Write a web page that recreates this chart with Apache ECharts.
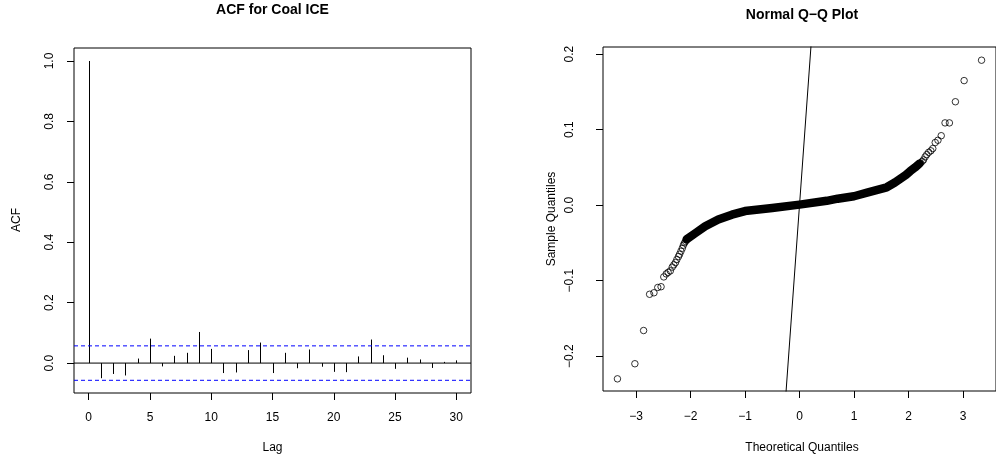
<!DOCTYPE html>
<html><head><meta charset="utf-8">
<script src="https://cdn.jsdelivr.net/npm/echarts@6/dist/echarts.min.js"></script>
<style>html,body{margin:0;padding:0;background:#fff}#c{width:996px;height:465px}</style>
</head><body><div id="c"></div>
<script>
// ---- ACF panel data ----
const acfLags = [0,1,2,3,4,5,6,7,8,9,10,11,12,13,14,15,16,17,18,19,20,21,22,23,24,25,26,27,28,29,30];
const acfValues = [1.0,-0.050,-0.036,-0.041,0.015,0.081,-0.011,0.024,0.034,0.103,0.047,-0.033,-0.031,0.043,0.068,-0.033,0.034,-0.017,0.045,-0.012,-0.029,-0.030,0.022,0.078,0.026,-0.019,0.018,0.012,-0.016,0.004,0.009];
const acfConfLimit = 0.057;
const acfXTicks = [0,5,10,15,20,25,30];
const acfYTicks = [0,0.2,0.4,0.6,0.8,1.0];

// ---- Q-Q panel data ----
// individually visible points in the tails (theoretical, sample)
const qqTailTheo = [-3.34,-3.02,-2.86,-2.75,-2.67,-2.60,-2.54,-2.49,-2.445,-2.41,-2.37,-2.335,-2.305,-2.275,-2.25,-2.22,-2.20,-2.175,-2.15,-2.13,-2.11,-2.09,-2.07,-2.05,
  2.15,2.175,2.20,2.22,2.25,2.275,2.305,2.335,2.37,2.41,2.445,2.49,2.54,2.60,2.67,2.75,2.86,3.02,3.34];
const qqTailSample = [-0.230,-0.210,-0.166,-0.118,-0.116,-0.109,-0.108,-0.095,-0.091,-0.089,-0.087,-0.082,-0.079,-0.076,-0.072,-0.068,-0.065,-0.061,-0.057,-0.053,-0.050,-0.048,-0.046,-0.044,
  0.052,0.053,0.055,0.056,0.058,0.060,0.064,0.067,0.070,0.072,0.075,0.083,0.086,0.092,0.109,0.109,0.137,0.165,0.192];
// dense central band (overlapping points) read along its centre
const qqBandTheo = [-2.07,-1.91,-1.73,-1.49,-1.24,-1.0,-0.5,0,0.5,0.7,1.0,1.24,1.6,1.75,1.85,1.95,2.03,2.12,2.2];
const qqBandSample = [-0.045,-0.037,-0.028,-0.019,-0.0126,-0.0078,-0.0038,0.0007,0.0058,0.0086,0.0118,0.0165,0.0237,0.030,0.035,0.040,0.045,0.050,0.055];
const qqRefTheo = [-0.3,0.3];
const qqRefSample = [-0.3,0.3];
const qqXTicks = [-3,-2,-1,0,1,2,3];
const qqYTicks = [-0.2,-0.1,0,0.1,0.2];

const acfXRange = [-1.2,31.2], acfYRange = [-0.099,1.043];
const qqXRange = [-3.605,3.605], qqYRange = [-0.2461,0.2095];

const FONT = 'Liberation Sans, Arial, Helvetica, sans-serif';
const minus = v => (v < 0 ? '\u2212' : '') + Math.abs(v);
const chart = echarts.init(document.getElementById('c'), null, {renderer:'canvas'});

function axisCommon(ticks, fmt, margin, rotate){
  return {
    type:'value', splitLine:{show:false}, axisLine:{show:false, onZero:false},
    axisTick:{show:true, inside:false, length:7, customValues:ticks, lineStyle:{color:'#000', width:1}},
    axisLabel:{customValues:ticks, formatter:fmt, margin:margin, rotate:rotate||0, color:'#000', fontSize:12, fontFamily:FONT}
  };
}

const option = {
  animation:false,
  backgroundColor:'#fff',
  grid:[
    {left:74, top:48, width:397, height:345, show:true, borderColor:'#000', borderWidth:1, backgroundColor:'transparent'},
    {left:603, top:47, width:398, height:344, show:true, borderColor:'#000', borderWidth:1, backgroundColor:'transparent'}
  ],
  xAxis:[
    Object.assign(axisCommon(acfXTicks, v=>String(v), 19), {gridIndex:0, position:'bottom', min:acfXRange[0], max:acfXRange[1]}),
    Object.assign(axisCommon(qqXTicks, v=>minus(v), 20), {gridIndex:1, position:'bottom', min:qqXRange[0], max:qqXRange[1]})
  ],
  yAxis:[
    Object.assign(axisCommon(acfYTicks, v=>v.toFixed(1), 18, 90), {gridIndex:0, position:'left', min:acfYRange[0], max:acfYRange[1]}),
    Object.assign(axisCommon(qqYTicks, v=>(v<0?'\u2212':'')+Math.abs(v).toFixed(1), 27, 90), {gridIndex:1, position:'left', min:qqYRange[0], max:qqYRange[1]})
  ],
  graphic:[
    {type:'text', x:272.5, y:10.5, style:{text:'ACF for Coal ICE', font:'bold 14px '+FONT, fill:'#000', textAlign:'center', textVerticalAlign:'middle'}},
    {type:'text', x:802, y:15, style:{text:'Normal Q\u2212Q Plot', font:'bold 14px '+FONT, fill:'#000', textAlign:'center', textVerticalAlign:'middle'}},
    {type:'text', x:272.5, y:448, style:{text:'Lag', font:'12px '+FONT, fill:'#000', textAlign:'center', textVerticalAlign:'middle'}},
    {type:'text', x:802, y:448, style:{text:'Theoretical Quantiles', font:'12px '+FONT, fill:'#000', textAlign:'center', textVerticalAlign:'middle'}},
    {type:'text', x:17, y:220, rotation:Math.PI/2, style:{text:'ACF', font:'12px '+FONT, fill:'#000', textAlign:'center', textVerticalAlign:'middle'}},
    {type:'text', x:552, y:219, rotation:Math.PI/2, style:{text:'Sample Quantiles', font:'12px '+FONT, fill:'#000', textAlign:'center', textVerticalAlign:'middle'}}
  ],
  series:[
    {type:'line', xAxisIndex:0, yAxisIndex:0, symbol:'none', silent:true,
     data:[[acfXRange[0],0],[acfXRange[1],0]], lineStyle:{color:'#000', width:1}},
    {type:'line', xAxisIndex:0, yAxisIndex:0, symbol:'none', silent:true,
     data:[[acfXRange[0],acfConfLimit],[acfXRange[1],acfConfLimit]], lineStyle:{color:'#0000ff', width:1, type:[4,3]}},
    {type:'line', xAxisIndex:0, yAxisIndex:0, symbol:'none', silent:true,
     data:[[acfXRange[0],-acfConfLimit],[acfXRange[1],-acfConfLimit]], lineStyle:{color:'#0000ff', width:1, type:[4,3]}},
    {type:'custom', xAxisIndex:0, yAxisIndex:0, silent:true,
     data: acfLags.map((l,i)=>[l, acfValues[i]]),
     renderItem:(params, api)=>{
       const p0 = api.coord([api.value(0), 0]);
       const p1 = api.coord([api.value(0), api.value(1)]);
       const x = Math.round(p0[0]) + 0.5;
       return {type:'line', shape:{x1:x, y1:p0[1], x2:x, y2:p1[1]}, style:{stroke:'#000', lineWidth:1}};
     }},
    {type:'line', xAxisIndex:1, yAxisIndex:1, symbol:'none', silent:true, clip:true,
     data: qqBandTheo.map((t,i)=>[t, qqBandSample[i]]),
     lineStyle:{color:'#000', width:8.5, cap:'round', join:'round'}},
    {type:'scatter', xAxisIndex:1, yAxisIndex:1, silent:true, symbol:'circle', symbolSize:6.5,
     data: qqTailTheo.map((t,i)=>[t, qqTailSample[i]]),
     itemStyle:{color:'rgba(0,0,0,0)', borderColor:'#000', borderWidth:1}},
    {type:'line', xAxisIndex:1, yAxisIndex:1, symbol:'none', silent:true, clip:true,
     data: qqRefTheo.map((t,i)=>[t, qqRefSample[i]]),
     lineStyle:{color:'#000', width:1}}
  ]
};
chart.setOption(option);
</script></body></html>
